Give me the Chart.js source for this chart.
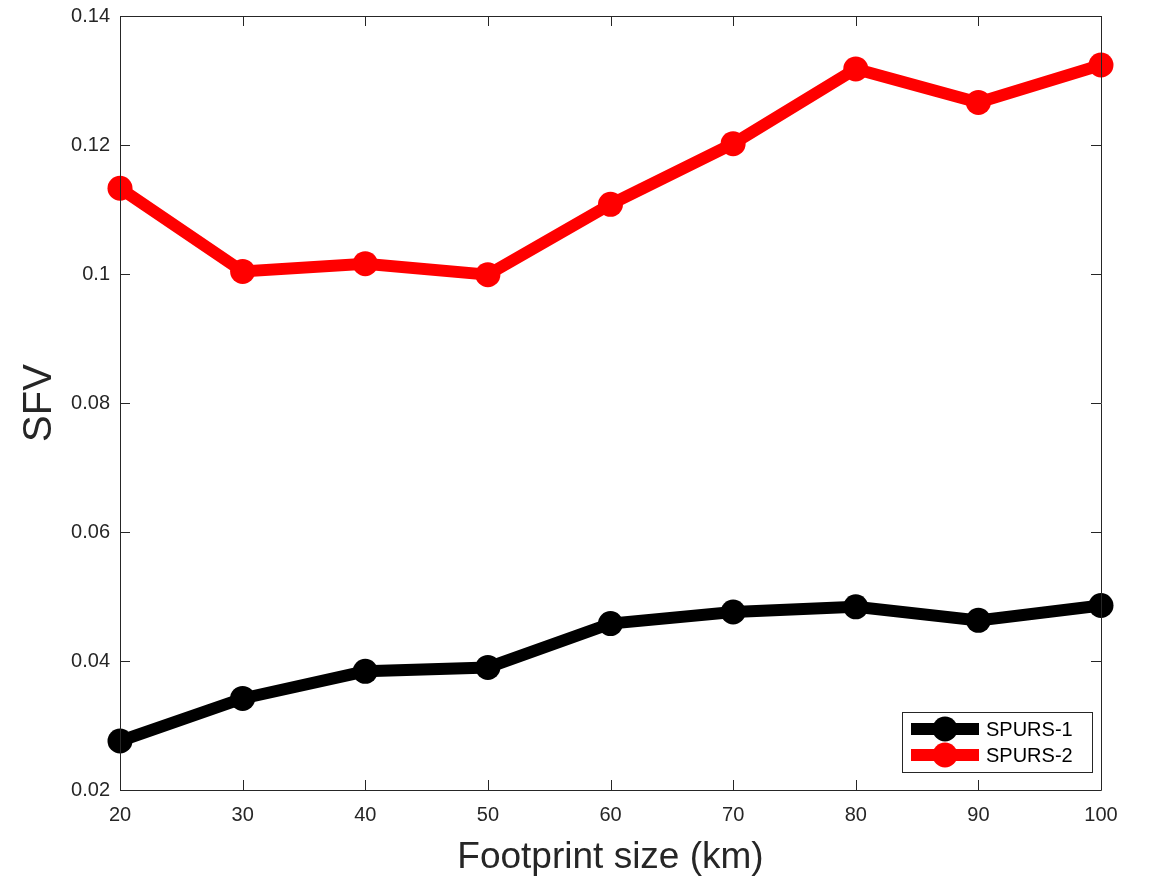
<!DOCTYPE html>
<html>
<head>
<meta charset="utf-8">
<script src="https://cdn.jsdelivr.net/npm/chart.js@4/dist/chart.umd.min.js"></script>
<style>
  html, body { margin: 0; padding: 0; background: #fff; }
  #wrap { width: 1150px; height: 880px; }
</style>
</head>
<body>
<div id="wrap"><canvas id="chart" width="1150" height="880"></canvas></div>
<script>
// chart data
var footprint = [20, 30, 40, 50, 60, 70, 80, 90, 100];
var spurs1 = [0.0276, 0.0342, 0.0384, 0.0390, 0.0458, 0.0476, 0.0484, 0.0463, 0.0486];
var spurs2 = [0.1133, 0.1004, 0.1016, 0.0999, 0.1108, 0.1202, 0.1318, 0.1266, 0.1324];
var seriesNames = ['SPURS-1', 'SPURS-2'];
var seriesColors = ['#000000', '#ff0000'];
var yTicks = [0.02, 0.04, 0.06, 0.08, 0.1, 0.12, 0.14];
var xTicks = [20, 30, 40, 50, 60, 70, 80, 90, 100];

var FONT = '"Liberation Sans", Arial, Helvetica, sans-serif';

function toPoints(xs, ys) {
    return xs.map(function(x, i) { return { x: x, y: ys[i] }; });
}

// box, inward ticks and legend, matlab style
var matlabAxes = {
    id: 'matlabAxes',
    afterDatasetsDraw: function(chart) {
        var ctx = chart.ctx;
        var a = chart.chartArea;
        var xs = chart.scales.x, ys = chart.scales.y;
        ctx.save();
        ctx.strokeStyle = '#262626';
        ctx.lineWidth = 1;
        ctx.beginPath();
        ctx.rect(Math.round(a.left) + 0.5, Math.round(a.top) + 0.5,
                 Math.round(a.right - a.left), Math.round(a.bottom - a.top));
        ctx.stroke();
        var len = 10;
        ctx.beginPath();
        xTicks.forEach(function(v) {
            var px = Math.round(xs.getPixelForValue(v)) + 0.5;
            ctx.moveTo(px, a.bottom); ctx.lineTo(px, a.bottom - len);
            ctx.moveTo(px, a.top); ctx.lineTo(px, a.top + len);
        });
        yTicks.forEach(function(v) {
            var py = Math.round(ys.getPixelForValue(v)) + 0.5;
            ctx.moveTo(a.left, py); ctx.lineTo(a.left + len, py);
            ctx.moveTo(a.right, py); ctx.lineTo(a.right - len, py);
        });
        ctx.stroke();

        // legend
        var bx = 902, by = 712, bw = 190, bh = 60;
        ctx.fillStyle = '#fff';
        ctx.fillRect(bx, by, bw, bh);
        ctx.strokeStyle = '#262626';
        ctx.strokeRect(bx + 0.5, by + 0.5, bw, bh);
        ctx.font = '20px ' + FONT;
        ctx.textBaseline = 'middle';
        chart.data.datasets.forEach(function(ds, i) {
            var y = by + 17 + i * 26;
            ctx.strokeStyle = ds.borderColor;
            ctx.lineWidth = 12;
            ctx.beginPath();
            ctx.moveTo(911, y); ctx.lineTo(979, y);
            ctx.stroke();
            ctx.fillStyle = ds.borderColor;
            ctx.beginPath();
            ctx.arc(945, y, 12.5, 0, Math.PI * 2);
            ctx.fill();
            ctx.fillStyle = '#000';
            ctx.fillText(ds.label, 986, y + 1);
        });
        ctx.restore();
    }
};

var ctx = document.getElementById('chart').getContext('2d');
var chart = new Chart(ctx, {
    type: 'line',
    data: {
        datasets: [0, 1].map(function(i) {
            return {
                label: seriesNames[i],
                data: toPoints(footprint, i === 0 ? spurs1 : spurs2),
                borderColor: seriesColors[i],
                backgroundColor: seriesColors[i],
                borderWidth: 12,
                pointRadius: 12.5,
                pointHoverRadius: 12.5,
                pointBorderWidth: 0,
                tension: 0,
                clip: false
            };
        })
    },
    options: {
        responsive: false,
        animation: false,
        devicePixelRatio: 1,
        layout: { padding: { top: 16, right: 49, left: 16, bottom: 0 } },
        plugins: {
            legend: { display: false },
            tooltip: { enabled: false }
        },
        scales: {
            x: {
                type: 'linear',
                min: 20, max: 100,
                afterBuildTicks: function(s) { s.ticks = xTicks.map(function(v) { return { value: v }; }); },
                afterFit: function(s) { s.height = 90; s.paddingLeft = 0; s.paddingRight = 0; },
                grid: { display: false, drawTicks: false },
                border: { display: false },
                ticks: {
                    color: '#262626',
                    font: { family: FONT, size: 20 },
                    padding: 13,
                    maxRotation: 0
                },
                title: {
                    display: true,
                    text: 'Footprint size (km)',
                    color: '#262626',
                    font: { family: FONT, size: 37 },
                    padding: { top: 0, bottom: 0 }
                }
            },
            y: {
                min: 0.02, max: 0.14,
                afterBuildTicks: function(s) { s.ticks = yTicks.map(function(v) { return { value: v }; }); },
                afterFit: function(s) { s.width = 104; s.paddingTop = 0; s.paddingBottom = 0; },
                grid: { display: false, drawTicks: false },
                border: { display: false },
                ticks: {
                    color: '#262626',
                    font: { family: FONT, size: 20 },
                    padding: 10,
                    callback: function(v) { return String(+v.toFixed(2)); }
                },
                title: {
                    display: true,
                    text: 'SFV',
                    color: '#262626',
                    font: { family: FONT, size: 40 },
                    padding: { top: 0, bottom: 0 }
                }
            }
        }
    },
    plugins: [matlabAxes]
});
</script>
</body>
</html>
